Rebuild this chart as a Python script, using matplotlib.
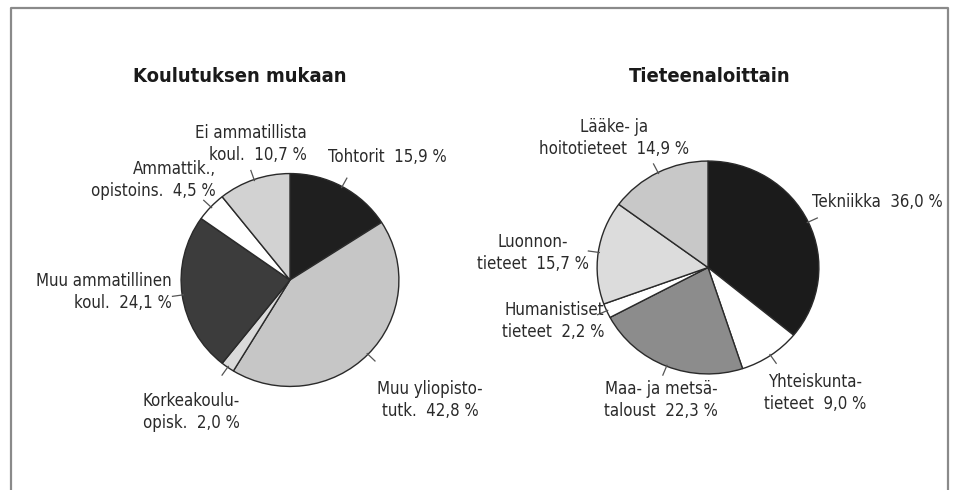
import numpy as np
import matplotlib
matplotlib.use("Agg")
import matplotlib.pyplot as plt
from matplotlib import font_manager as fm

# ---------------- data ----------------
left_title = "Koulutuksen mukaan"
left_labels = ["Tohtorit  15,9 %", "Muu yliopisto-\ntutk.  42,8 %", "Korkeakoulu-\nopisk.  2,0 %",
               "Muu ammatillinen\nkoul.  24,1 %", "Ammattik.,\nopistoins.  4,5 %",
               "Ei ammatillista\nkoul.  10,7 %"]
left_values = [15.9, 42.8, 2.0, 24.1, 4.5, 10.7]
left_colors = ["#1f1f1f", "#c6c6c6", "#dadada", "#3c3c3c", "#ffffff", "#d2d2d2"]

right_title = "Tieteenaloittain"
right_labels = ["Tekniikka  36,0 %", "Yhteiskunta-\ntieteet  9,0 %", "Maa- ja metsä-\ntaloust  22,3 %",
                "Humanistiset\ntieteet  2,2 %", "Luonnon-\ntieteet  15,7 %", "Lääke- ja\nhoitotieteet  14,9 %"]
right_values = [36.0, 9.0, 22.3, 2.2, 15.7, 14.9]
right_colors = ["#1b1b1b", "#ffffff", "#8c8c8c", "#ffffff", "#dcdcdc", "#c8c8c8"]

# label layout (pixel positions, alignment)
left_label_pos = [(328, 157, "left", "left"), (430, 400, "center", "center"),
                  (240, 412, "right", "right"), (172, 292, "right", "right"),
                  (216, 180, "right", "right"), (307, 144, "right", "right")]
right_label_pos = [(812, 202, "left", "left"), (815, 393, "center", "center"),
                   (661, 400, "center", "center"), (604, 321, "right", "right"),
                   (533, 253, "center", "center"), (614, 138, "center", "center")]

# ---------------- fonts ----------------
avail = {f.name for f in fm.fontManager.ttflist}
if "Liberation Sans Narrow" in avail:
    FONT = dict(family="Liberation Sans Narrow")
else:
    FONT = dict(family="DejaVu Sans", stretch="condensed")

W, H = 955, 490
fig = plt.figure(figsize=(W / 100, H / 100), dpi=100)
fig.patch.set_facecolor("white")

# overlay axes in pixel coords
ov = fig.add_axes([0, 0, 1, 1])
ov.set_xlim(0, W)
ov.set_ylim(H, 0)
ov.axis("off")
ov.set_zorder(3)
ov.patch.set_alpha(0)

# frame (top, left, right; bottom runs off the picture)
ov.plot([11, 11, 948, 948], [H + 5, 8, 8, H + 5], color="#8a8a8a", lw=1.6)


def draw_pie(cx, cy, rx, ry, values, colors, labels, label_pos, title, tx, ty):
    ax = fig.add_axes([(cx - rx) / W, (H - cy - ry) / H, 2 * rx / W, 2 * ry / H])
    ax.axis("off")
    wedges, _ = ax.pie(values, colors=colors, startangle=90, counterclock=False, radius=1.0,
                       wedgeprops=dict(edgecolor="#2a2a2a", linewidth=1.0))
    ax.set_aspect("auto")
    ax.set_xlim(-1.01, 1.01)
    ax.set_ylim(-1.01, 1.01)
    # leader ticks
    for w in wedges:
        ang = np.deg2rad((w.theta1 + w.theta2) / 2)
        ax.plot([0.99 * np.cos(ang), 1.09 * np.cos(ang)],
                [0.99 * np.sin(ang), 1.09 * np.sin(ang)],
                color="#555555", lw=0.9, clip_on=False)
    for lab, (x, y, ha, ma) in zip(labels, label_pos):
        ov.text(x, y, lab, ha=ha, va="center", multialignment=ma, fontsize=12.1,
                color="#2a2a2a", linespacing=1.22, **FONT)
    ov.text(tx, ty, title, ha="center", va="center", fontsize=14.5, fontweight="bold",
            color="#1a1a1a", **FONT)


draw_pie(290, 280, 110, 107.5, left_values, left_colors, left_labels, left_label_pos,
         left_title, 240, 76)
draw_pie(708, 267.5, 112, 107.5, right_values, right_colors, right_labels, right_label_pos,
         right_title, 710, 76)

fig.savefig("out.png", dpi=100, facecolor="white")
